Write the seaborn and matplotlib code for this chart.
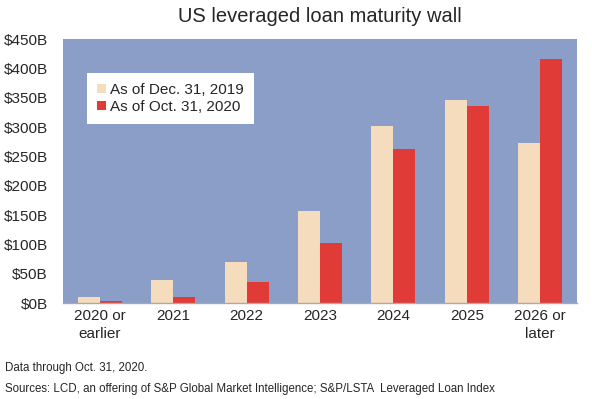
import numpy as np
import pandas as pd
import matplotlib
matplotlib.use("Agg")
import matplotlib.pyplot as plt
import seaborn as sns

# Data ($ billions)
categories = ["2020 or\nearlier", "2021", "2022", "2023", "2024", "2025", "2026 or\nlater"]
dec_2019 = [10, 40, 70, 156, 301, 346, 272]
oct_2020 = [3, 10, 36, 103, 263, 335, 416]
series_names = ["As of Dec. 31, 2019", "As of Oct. 31, 2020"]
y_ticks = [0, 50, 100, 150, 200, 250, 300, 350, 400, 450]

sns.set_theme(style="white")
plt.rcParams['font.family'] = ['Liberation Sans', 'DejaVu Sans']

df = pd.DataFrame({
    "category": categories * 2,
    "value": dec_2019 + oct_2020,
    "series": [series_names[0]] * len(categories) + [series_names[1]] * len(categories),
})

fig = plt.figure(figsize=(5.92, 3.99), dpi=100)
ax = fig.add_axes([63 / 592, 1 - 303 / 399, 514 / 592, 264 / 399])
ax.set_facecolor("#8a9ec8")

sns.barplot(data=df, x="category", y="value", hue="series",
            palette=["#f5dcbd", "#e03b37"], width=0.6, saturation=1,
            linewidth=0, ax=ax, legend=True)

ax.set_xlim(-0.5, 6.5)
ax.set_ylim(0, 450)
ax.set_yticks(y_ticks)
ax.set_yticklabels(["$%dB" % v for v in y_ticks], fontsize=11)
ax.tick_params(axis="x", labelsize=11, length=0, pad=4)
ax.tick_params(axis="y", length=0, pad=11)
for lab in ax.get_xticklabels():
    lab.set_linespacing(1.4)
ax.set_xlabel("")
ax.set_ylabel("")
for side in ["top", "right", "left"]:
    ax.spines[side].set_visible(False)
ax.spines["bottom"].set_color("#aaaaaa")
ax.spines["bottom"].set_linewidth(1)

leg = ax.legend(loc="upper left", bbox_to_anchor=((87 - 63) / 514, (303 - 73) / 264),
                borderaxespad=0, fontsize=11,
                frameon=True, fancybox=False, framealpha=1, edgecolor="white",
                handlelength=0.6, handleheight=0.6, handletextpad=0.25,
                labelspacing=0.2, borderpad=0.65)
leg.get_frame().set_linewidth(0)

fig.text(320 / 592, 1 - 16 / 399, "US leveraged loan maturity wall",
         ha="center", va="center", fontsize=14.5)
fig.text(5 / 592, 1 - 368 / 399, "Data through Oct. 31, 2020.",
         ha="left", va="center", fontsize=8.3)
fig.text(5 / 592, 1 - 389 / 399,
         "Sources: LCD, an offering of S&P Global Market Intelligence; S&P/LSTA  Leveraged Loan Index",
         ha="left", va="center", fontsize=8.3)

fig.savefig("out.png", dpi=100)
